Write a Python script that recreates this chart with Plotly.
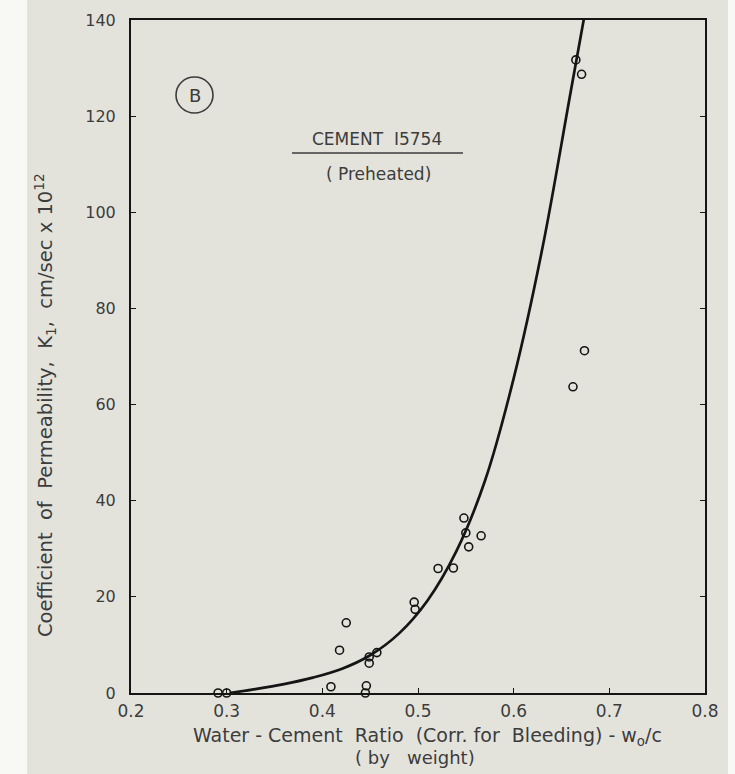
import plotly.graph_objects as go

# Measured data points (water-cement ratio, permeability coefficient)
wc_ratio = [0.291, 0.300, 0.409, 0.418, 0.425, 0.445, 0.446, 0.449, 0.449, 0.457,
            0.496, 0.497, 0.521, 0.537, 0.548, 0.550, 0.553, 0.566,
            0.662, 0.674, 0.665, 0.671]
permeability = [0.0, 0.0, 1.3, 8.9, 14.6, 0.0, 1.5, 6.2, 7.5, 8.4,
                18.9, 17.4, 25.9, 26.0, 36.4, 33.3, 30.4, 32.7,
                63.7, 71.2, 131.7, 128.7]

# Points
curve_x = [0.303, 0.33, 0.36, 0.39, 0.42, 0.45, 0.48, 0.51, 0.54,
           0.57, 0.60, 0.63, 0.66, 0.69]
curve_y = [0.0, 0.8, 1.85, 3.2, 5.0, 7.85, 12.35, 19.25, 29.45,
           44.15, 65.45, 92.5, 125.5, 158.5]

x_ticks = [0.2, 0.3, 0.4, 0.5, 0.6, 0.7, 0.8]
y_ticks = [0, 20, 40, 60, 80, 100, 120, 140]

ink = "#151515"
text_col = "#3c3c3c"
paper = "#e3e3dc"
font_fam = "DejaVu Sans"

L, R, T, B = 131, 30, 20, 81
PW, PH = 735 - L - R, 774 - T - B


def px(x):
    return (x - L) / PW


def py(y):
    return (774 - B - y) / PH


fig = go.Figure()
fig.add_trace(go.Scatter(x=curve_x, y=curve_y, mode="lines",
                         line=dict(color=ink, width=2.7, shape="spline", smoothing=1.0),
                         hoverinfo="skip", showlegend=False))
fig.add_trace(go.Scatter(x=wc_ratio, y=permeability, mode="markers",
                         marker=dict(symbol="circle-open", size=8, color=ink,
                                     line=dict(width=1.6, color=ink)),
                         showlegend=False, cliponaxis=False))

fig.update_layout(
    width=735, height=774,
    margin=dict(l=L, r=R, t=T, b=B),
    paper_bgcolor=paper, plot_bgcolor=paper,
    font=dict(family=font_fam, color=text_col, size=16),
    xaxis=dict(range=[0.2, 0.8], tickvals=x_ticks, ticktext=[str(v) for v in x_ticks],
               showgrid=False, zeroline=False, showline=True, linecolor=ink, linewidth=2,
               mirror=True, ticks="inside", ticklen=5, tickcolor=ink,
               tickfont=dict(size=17, color=text_col), ticklabelstandoff=2),
    yaxis=dict(range=[0, 140], tickvals=y_ticks, showgrid=False, zeroline=False,
               showline=True, linecolor=ink, linewidth=2, mirror="ticks",
               ticks="inside", ticklen=5, tickcolor=ink,
               tickfont=dict(size=16, color=text_col), ticklabelstandoff=10),
)

# white edge strips of the scanned page
fig.add_shape(type="rect", xref="paper", yref="paper", x0=px(0), x1=px(27),
              y0=py(774), y1=py(0), fillcolor="#f8f8f5", line_width=0, layer="below")
fig.add_shape(type="rect", xref="paper", yref="paper", x0=px(728), x1=px(735),
              y0=py(774), y1=py(0), fillcolor="#f8f8f5", line_width=0, layer="below")

# Axis titles
fig.add_annotation(xref="paper", yref="paper", x=px(45), y=py(405), textangle=-90,
                   xanchor="center", yanchor="middle",
                   text="Coefficient  of  Permeability,  K<sub>1</sub>,  cm/sec x 10<sup>12</sup>",
                   showarrow=False, font=dict(size=19.5, color=text_col))
fig.add_annotation(xref="paper", yref="paper", x=px(427), y=py(736),
                   xanchor="center", yanchor="middle",
                   text="Water - Cement  Ratio  (Corr. for  Bleeding) - w<sub>o</sub>/c",
                   showarrow=False, font=dict(size=19, color=text_col))
fig.add_annotation(xref="paper", yref="paper", x=px(415), y=py(757),
                   xanchor="center", yanchor="middle",
                   text="( by   weight)", showarrow=False, font=dict(size=18, color=text_col))

# Panel label and caption
fig.add_shape(type="circle", xref="paper", yref="paper",
              x0=px(176), x1=px(213), y0=py(113), y1=py(77),
              line=dict(color=text_col, width=1.6))
fig.add_annotation(xref="paper", yref="paper", x=px(194.5), y=py(95),
                   xanchor="center", yanchor="middle",
                   text="B", showarrow=False, font=dict(size=18, color=text_col))
fig.add_annotation(xref="paper", yref="paper", x=px(377), y=py(139),
                   xanchor="center", yanchor="middle",
                   text="CEMENT  I5754", showarrow=False, font=dict(size=17, color=text_col))
fig.add_shape(type="line", xref="paper", yref="paper",
              x0=px(292), x1=px(463), y0=py(153), y1=py(153),
              line=dict(color=text_col, width=1.6))
fig.add_annotation(xref="paper", yref="paper", x=px(378), y=py(174),
                   xanchor="center", yanchor="middle",
                   text="( Preheated)", showarrow=False, font=dict(size=17, color=text_col))

fig.write_html("out.html", config={"displayModeBar": False},
               post_script="document.body.style.margin='0';")
